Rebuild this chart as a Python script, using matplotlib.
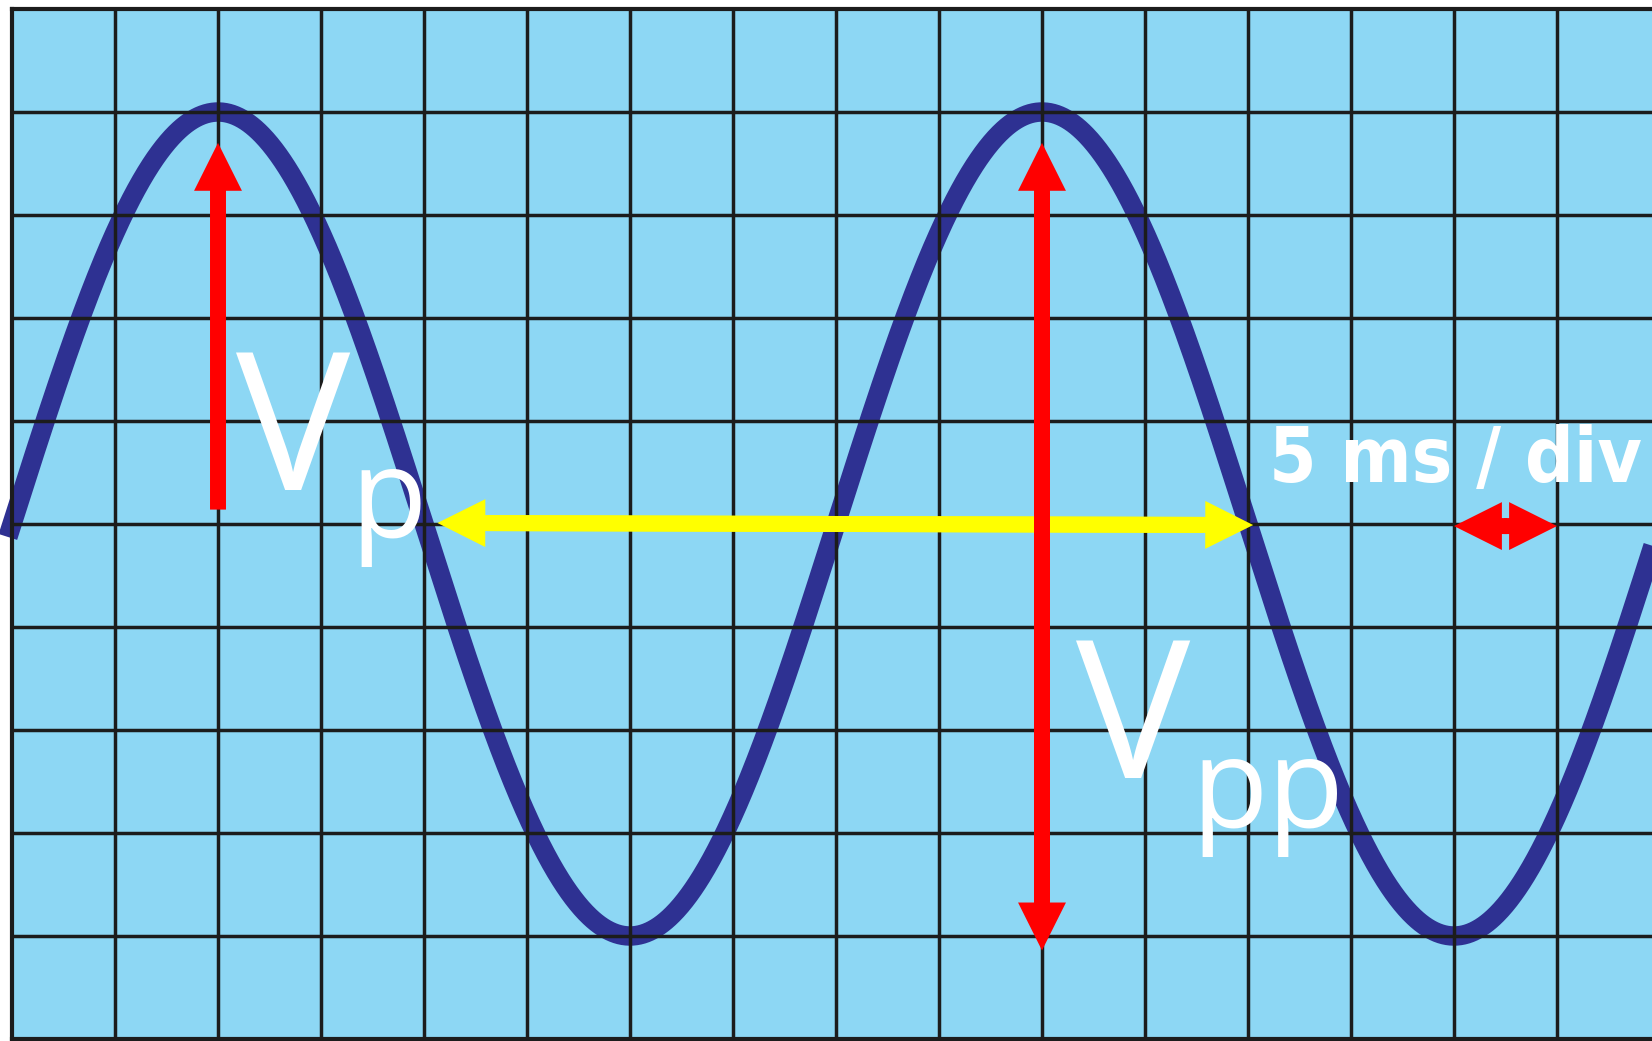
import numpy as np
import matplotlib
matplotlib.use("Agg")
import matplotlib.pyplot as plt
from matplotlib import font_manager

# Trace (in divisions)
trace_offset = 5.0      # zero line
trace_amplitude = 4.0   # peak above zero line
trace_period = 8.0      # divisions per cycle
trace_start = 0.0       # rising zero crossing

# Arrows (tail/tip in divisions)
vp_arrow = dict(x=2.0, y0=5.14, y1=8.70)
vpp_arrow = dict(x=10.0, y_top=8.70, y_bot=0.86)
period_arrow = dict(y0=5.01, y1=4.99, x0=4.13, x1=12.05)
div_arrow = dict(y=4.98, x0=14.0, x1=15.0)

# Labels
vp_main, vp_sub = "V", "p"
vpp_main, vpp_sub = "V", "pp"
timebase_label = "5 ms / div"

n_cols, n_rows = 16, 10

fonts = font_manager.fontManager.ttflist
names = {f.name for f in fonts}
label_font = "Open Sans" if "Open Sans" in names else "DejaVu Sans"
if "Liberation Sans Narrow" in names:
    tb_font, tb_stretch = "Liberation Sans Narrow", "normal"
elif any(f.name == "DejaVu Sans" and f.stretch == "condensed" for f in fonts):
    tb_font, tb_stretch = "DejaVu Sans", "condensed"
else:
    tb_font, tb_stretch = "Liberation Sans", "normal"

bg = "#8DD7F4"
grid_c = "#1c1c1c"
trace_c = "#2E3192"

fig = plt.figure(figsize=(16.52, 10.41), dpi=100)
W, H = 1652, 1041
px = 103.0
ax = fig.add_axes([12 / W, 2 / H, (W - 12) / W, 1030 / H])
ax.set_xlim(0, (W - 12) / px)
ax.set_ylim(0, n_rows)
ax.set_facecolor(bg)
ax.set_xticks([])
ax.set_yticks([])
for s in ["left", "top", "bottom"]:
    ax.spines[s].set_color(grid_c)
    ax.spines[s].set_linewidth(3.0)
    ax.spines[s].set_zorder(6)
ax.spines["right"].set_visible(False)

# grid
for i in range(1, n_cols + 1):
    ax.axvline(i, color=grid_c, lw=2.5, zorder=3)
for j in range(1, n_rows):
    ax.axhline(j, color=grid_c, lw=2.5, zorder=3)

# sine trace
t = np.linspace(-0.04, (W - 12) / px + 0.1, 2000)
v = trace_offset + trace_amplitude * np.sin(2 * np.pi * (t - trace_start) / trace_period)
ax.plot(t, v, color=trace_c, lw=14.0, zorder=2, solid_capstyle="butt", clip_on=False)

sw, hw, hl = 0.155, 0.465, 0.465


def arrow(x0, y0, x1, y1, color, z):
    ax.arrow(x0, y0, x1 - x0, y1 - y0, width=sw, head_width=hw, head_length=hl,
             length_includes_head=True, color=color, lw=0, zorder=z)


def double_arrow(x0, y0, x1, y1, color, z):
    # two heads, shafts overlapping so there is no seam in the middle
    dx, dy = x1 - x0, y1 - y0
    L = np.hypot(dx, dy)
    ux, uy = dx / L, dy / L
    arrow(x1 - ux * (hl + 0.02), y1 - uy * (hl + 0.02), x0, y0, color, z)
    arrow(x0 + ux * (hl + 0.02), y0 + uy * (hl + 0.02), x1, y1, color, z)


arrow(vp_arrow["x"], vp_arrow["y0"], vp_arrow["x"], vp_arrow["y1"], "#FF0000", 5)
double_arrow(period_arrow["x0"], period_arrow["y0"], period_arrow["x1"], period_arrow["y1"], "#FFFF00", 4)
double_arrow(vpp_arrow["x"], vpp_arrow["y_bot"], vpp_arrow["x"], vpp_arrow["y_top"], "#FF0000", 5)
double_arrow(div_arrow["x0"], div_arrow["y"], div_arrow["x1"], div_arrow["y"], "#FF0000", 5)

# labels
txt = dict(color="white", family=label_font, ha="left", va="baseline", zorder=7)
v1 = ax.text(2.17, 5.33, vp_main, fontsize=138, **txt)
v2 = ax.text(10.33, 2.53, vpp_main, fontsize=138, **txt)
tb = ax.text(15.83, 5.41, timebase_label, color="white", fontsize=60, family=tb_font,
             fontstretch=tb_stretch, fontweight="bold", ha="right", va="baseline", zorder=7)

# fit the timebase label, then put the subscripts just right of each V
fig.canvas.draw()
r = fig.canvas.get_renderer()
bb = tb.get_window_extent(r)
tb.set_fontsize(min(78, 60 * 1.2 * 311 / bb.width))
inv = ax.transData.inverted()
x1 = inv.transform((v1.get_window_extent(r).x1 + 1, 0))[0]
x2 = inv.transform((v2.get_window_extent(r).x1 + 1, 0))[0]
ax.text(x1, 4.87, vp_sub, fontsize=90, **txt)
ax.text(x2, 2.06, vpp_sub, fontsize=90, **txt)

fig.savefig("out.png", dpi=100, facecolor="white")
